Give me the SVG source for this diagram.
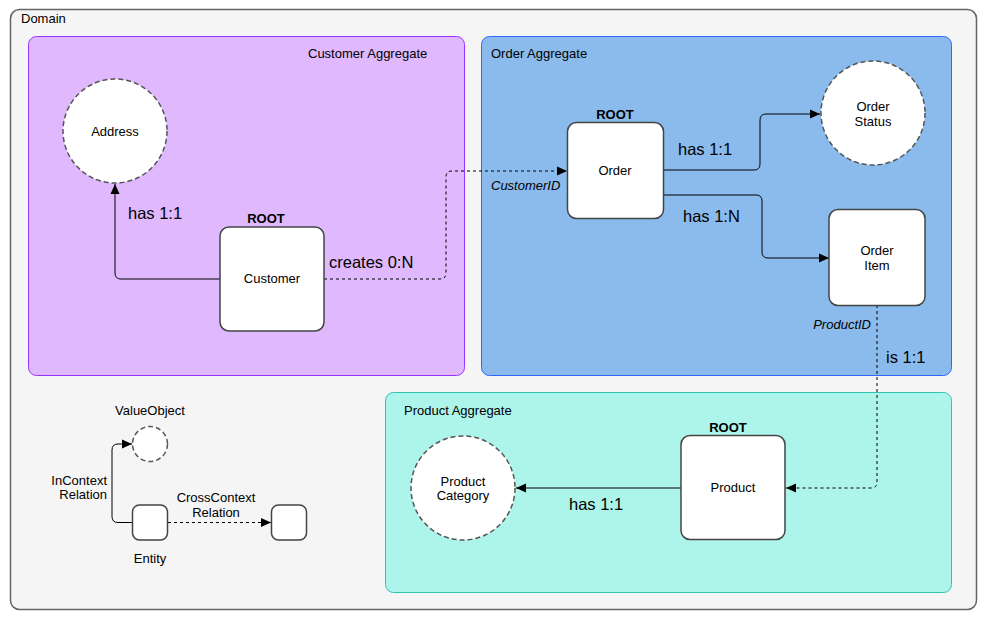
<svg xmlns="http://www.w3.org/2000/svg" width="987" height="621" viewBox="0 0 987 621">
<defs>
<marker id="arr" viewBox="0 0 10 10" refX="10" refY="5" markerWidth="10" markerHeight="10" markerUnits="userSpaceOnUse" orient="auto">
<path d="M0,0.5 L10,5 L0,9.5 Z" fill="#000"/>
</marker>
</defs>
<style>
text{font-family:"Liberation Sans",Arial,sans-serif;fill:#000}
.t12{font-size:13px}
.t15{font-size:16.5px}
.b{font-weight:bold;font-size:13px}
.it{font-style:italic;font-size:13px}
.mid{text-anchor:middle}
.end{text-anchor:end}
.ent{fill:#fff;stroke:#444;stroke-width:1.5}
.vo{fill:#fff;stroke:#555;stroke-width:1.5;stroke-dasharray:5 3}
.ln{fill:none;stroke:#000;stroke-width:1}
.dl{fill:none;stroke:#000;stroke-width:1;stroke-dasharray:3 3}
</style>
<g id="domain">
<rect x="10.5" y="9.5" width="966" height="600" rx="9" fill="#f5f5f5" stroke="#666" stroke-width="1.5"/>
<text class="t12" x="21" y="23">Domain</text>
</g>
<g id="customer-aggregate">
<rect x="28.5" y="36.5" width="436" height="339" rx="8" fill="#dfb8fd" stroke="#9933ff" stroke-width="1"/>
<text class="t12" x="308" y="58">Customer Aggregate</text>
</g>
<g id="order-aggregate">
<rect x="481.5" y="36.5" width="470" height="339" rx="8" fill="#8abbec" stroke="#3366ff" stroke-width="1"/>
<text class="t12" x="491" y="58">Order Aggregate</text>
</g>
<g id="product-aggregate">
<rect x="385.5" y="392.5" width="566" height="200" rx="8" fill="#adf4eb" stroke="#33c4b0" stroke-width="1"/>
<text class="t12" x="404" y="415">Product Aggregate</text>
</g>
<g id="connectors">
<path class="ln" d="M220,279 H121 Q115,279 115,273 V184" marker-end="url(#arr)"/>
<path class="dl" d="M324,279 H440 Q446,279 446,273 V177 Q446,171 452,171 H567" marker-end="url(#arr)"/>
<path class="ln" d="M663,170 H754 Q760,170 760,164 V120 Q760,114 766,114 H820" marker-end="url(#arr)"/>
<path class="ln" d="M663,195 H756 Q762,195 762,201 V252 Q762,258 768,258 H829" marker-end="url(#arr)"/>
<path class="dl" d="M877,305 V482 Q877,488 871,488 H786" marker-end="url(#arr)"/>
<path class="ln" d="M681,488 H516" marker-end="url(#arr)"/>
<path class="ln" d="M132,522.5 H118 Q112,522.5 112,516.5 V450 Q112,444 118,444 H132" marker-end="url(#arr)"/>
<path class="dl" d="M168,522.5 H271" marker-end="url(#arr)"/>
<text class="t15" x="128" y="219">has 1:1</text>
<text class="t15" x="329" y="268">creates 0:N</text>
<text class="it" x="491" y="190">CustomerID</text>
<text class="t15" x="678" y="155">has 1:1</text>
<text class="t15" x="683" y="222">has 1:N</text>
<text class="it end" x="871" y="329">ProductID</text>
<text class="t15" x="886" y="363">is 1:1</text>
<text class="t15" x="569" y="510">has 1:1</text>
<text class="t12 end" x="107" y="485">InContext</text>
<text class="t12 end" x="107" y="499">Relation</text>
<text class="t12 mid" x="216" y="502">CrossContext</text>
<text class="t12 mid" x="216" y="517">Relation</text>
</g>
<g id="address">
<circle class="vo" cx="115" cy="131" r="52"/>
<text class="t12 mid" x="115" y="136">Address</text>
</g>
<g id="customer">
<text class="b mid" x="266" y="223">ROOT</text>
<rect class="ent" x="220" y="227" width="104" height="104" rx="9"/>
<text class="t12 mid" x="272" y="283">Customer</text>
</g>
<g id="order">
<text class="b mid" x="615" y="119">ROOT</text>
<rect class="ent" x="567.5" y="122.5" width="96" height="96" rx="9"/>
<text class="t12 mid" x="615" y="175">Order</text>
</g>
<g id="order-status">
<circle class="vo" cx="873" cy="113" r="52"/>
<text class="t12 mid" x="873" y="111">Order</text>
<text class="t12 mid" x="873" y="126">Status</text>
</g>
<g id="order-item">
<rect class="ent" x="829" y="209.5" width="96" height="96" rx="9"/>
<text class="t12 mid" x="877" y="255">Order</text>
<text class="t12 mid" x="877" y="270">Item</text>
</g>
<g id="product">
<text class="b mid" x="728" y="432">ROOT</text>
<rect class="ent" x="681" y="435.5" width="104" height="104" rx="9"/>
<text class="t12 mid" x="733" y="492">Product</text>
</g>
<g id="product-category">
<circle class="vo" cx="463" cy="488" r="52"/>
<text class="t12 mid" x="463" y="486">Product</text>
<text class="t12 mid" x="463" y="500">Category</text>
</g>
<g id="legend-valueobject">
<text class="t12 mid" x="150" y="415">ValueObject</text>
<circle class="vo" cx="150" cy="444" r="17.5"/>
</g>
<g id="legend-entity">
<rect class="ent" x="132.5" y="505" width="35" height="35" rx="7"/>
<text class="t12 mid" x="150" y="563">Entity</text>
</g>
<g id="legend-target">
<rect class="ent" x="271.5" y="505" width="35" height="35" rx="7"/>
</g>
</svg>
